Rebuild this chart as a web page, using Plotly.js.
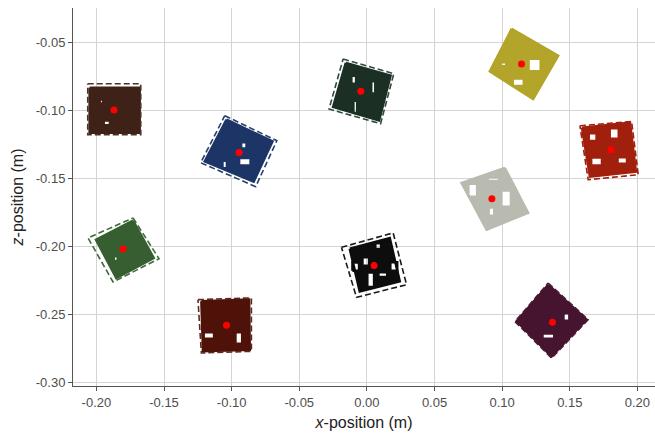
<!DOCTYPE html>
<html><head><meta charset="utf-8">
<script src="https://cdn.plot.ly/plotly-3.0.1.min.js"></script>
<style>html,body{margin:0;padding:0;background:#fff}#chart{width:655px;height:434px}</style>
</head><body><div id="chart"></div>
<script>
// cluster order: brown, blue, dark green, olive, red, gray, black, green, maroon, purple
const cloudColors = ['#3e2218','#1c3566','#1b2f25','#b3a42a','#a11f0d','#b9bbb0','#0d0d0d','#365e30','#4f1209','#47142f'];
const boxColors   = ['#4b3325','#26406e','#2d4a3b','#b3a42a','#a11f0d','#b9bbb0','#1a1a1a','#3d6b38','#5b2a20','#4a1a36'];

const cloudX = [
  [-0.2050,-0.1680,-0.1680,-0.2050],
  [-0.1038,-0.0698,-0.0837,-0.1199],
  [-0.0156, 0.0175, 0.0090,-0.0250],
  [ 0.1070, 0.1414, 0.1229, 0.0909],
  [ 0.1590, 0.1945, 0.1989, 0.1649],
  [ 0.1020, 0.1192, 0.0885, 0.0700],
  [-0.0127, 0.0169, 0.0243,-0.0053],
  [-0.1729,-0.1576,-0.1853,-0.2003],
  [-0.1224,-0.0871,-0.0866,-0.1212],
  [ 0.1340, 0.1624, 0.1365, 0.1107]
];
const cloudY = [
  [-0.0833,-0.0833,-0.1164,-0.1164],
  [-0.1068,-0.1228,-0.1524,-0.1375],
  [-0.0651,-0.0745,-0.1074,-0.0975],
  [-0.0401,-0.0598,-0.0916,-0.0713],
  [-0.1127,-0.1090,-0.1451,-0.1488],
  [-0.1424,-0.1754,-0.1877,-0.1534],
  [-0.2017,-0.1939,-0.2257,-0.2331],
  [-0.1811,-0.2086,-0.2233,-0.1951],
  [-0.2404,-0.2392,-0.2760,-0.2772],
  [-0.2282,-0.2539,-0.2809,-0.2551]
];
const boxX = [
  [-0.2064,-0.1672,-0.1672,-0.2064],
  [-0.1051,-0.0666,-0.0822,-0.1229],
  [-0.0176, 0.0199, 0.0101,-0.0280],
  [ 0.1070, 0.1414, 0.1229, 0.0909],
  [ 0.1575, 0.1957, 0.2006, 0.1636],
  [ 0.1020, 0.1192, 0.0885, 0.0700],
  [-0.0188, 0.0194, 0.0293,-0.0077],
  [-0.1729,-0.1537,-0.1877,-0.2062],
  [-0.1249,-0.0854,-0.0854,-0.1224],
  [ 0.1340, 0.1636, 0.1366, 0.1095]
];
const boxY = [
  [-0.0804,-0.0804,-0.1179,-0.1179],
  [-0.1039,-0.1223,-0.1561,-0.1385],
  [-0.0622,-0.0730,-0.1098,-0.0990],
  [-0.0401,-0.0598,-0.0916,-0.0713],
  [-0.1113,-0.1081,-0.1473,-0.1510],
  [-0.1424,-0.1754,-0.1877,-0.1534],
  [-0.2007,-0.1901,-0.2282,-0.2375],
  [-0.1791,-0.2091,-0.2262,-0.1938],
  [-0.2392,-0.2379,-0.2772,-0.2784],
  [-0.2270,-0.2539,-0.2822,-0.2553]
];
// empty patches inside each cloud: [xmin, xmax, ymax, ymin]
const holes = [
  [[-0.1976,-0.1950,-0.0920,-0.0950],[-0.1946,-0.1900,-0.1075,-0.1110]],
  [[-0.0930,-0.0890,-0.1235,-0.1280],[-0.0945,-0.0860,-0.1350,-0.1405],[-0.1068,-0.1035,-0.1370,-0.1425]],
  [[-0.0115,-0.0080,-0.0745,-0.0805],[0.0032,0.0062,-0.0785,-0.0875],[-0.0100,-0.0072,-0.0930,-0.1020]],
  [[0.1195,0.1285,-0.0620,-0.0712],[0.0988,0.1030,-0.0646,-0.0675],[0.1078,0.1160,-0.0765,-0.0820]],
  [[0.1640,0.1698,-0.1168,-0.1225],[0.1795,0.1862,-0.1132,-0.1208],[0.1658,0.1738,-0.1347,-0.1405],[0.1853,0.1923,-0.1345,-0.1392]],
  [[0.0750,0.0815,-0.1540,-0.1635],[0.0893,0.0978,-0.1492,-0.1520],[0.0990,0.1065,-0.1590,-0.1708],[0.0900,0.0942,-0.1715,-0.1775]],
  [[-0.0033,0.0016,-0.2080,-0.2142],[0.0062,0.0105,-0.1978,-0.2020],[0.0003,0.0053,-0.2192,-0.2298],[0.0173,0.0224,-0.2117,-0.2180],[0.0085,0.0150,-0.2190,-0.2226],[-0.0107,-0.0058,-0.2118,-0.2180]],
  [[-0.1872,-0.1842,-0.2072,-0.2108]],
  [[-0.0972,-0.0922,-0.2632,-0.2716],[-0.1207,-0.1130,-0.2632,-0.2680]],
  [[0.1298,0.1385,-0.2640,-0.2680],[0.1453,0.1497,-0.2492,-0.2548]]
];
const centroidX = [-0.1870,-0.0945,-0.0045, 0.1143, 0.1804, 0.0924, 0.0053,-0.1803,-0.1038, 0.1372];
const centroidY = [-0.0997,-0.1309,-0.0860,-0.0659,-0.1289,-0.1649,-0.2140,-0.2019,-0.2581,-0.2559];

const xTickVals = [-0.20,-0.15,-0.10,-0.05,0.00,0.05,0.10,0.15,0.20];
const xTickText = ['-0.20','-0.15','-0.10','-0.05','0.00','0.05','0.10','0.15','0.20'];
const yTickVals = [-0.05,-0.10,-0.15,-0.20,-0.25,-0.30];
const yTickText = ['-0.05','-0.10','-0.15','-0.20','-0.25','-0.30'];

function signedArea(xs, ys){ let a=0; for(let i=0;i<xs.length;i++){const j=(i+1)%xs.length; a+=xs[i]*ys[j]-xs[j]*ys[i];} return a; }

const traces = [];
for (let i=0;i<cloudX.length;i++){
  let ox = cloudX[i].slice(), oy = cloudY[i].slice();
  const outerSign = Math.sign(signedArea(ox, oy));
  const xs = ox.concat([ox[0]]), ys = oy.concat([oy[0]]);
  holes[i].forEach(h => {
    let hx = [h[0],h[1],h[1],h[0]], hy = [h[2],h[2],h[3],h[3]];
    if (Math.sign(signedArea(hx,hy)) === outerSign){ hx.reverse(); hy.reverse(); }
    xs.push(null); ys.push(null);
    hx.concat([hx[0]]).forEach(v=>xs.push(v)); hy.concat([hy[0]]).forEach(v=>ys.push(v));
  });
  traces.push({type:'scatter', mode:'lines', x:xs, y:ys, fill:'toself', fillcolor:cloudColors[i],
    line:{color:cloudColors[i], width:2.5, shape:'linear'}, hoverinfo:'skip', showlegend:false});
}
for (let i=0;i<boxX.length;i++){
  traces.push({type:'scatter', mode:'lines', x:boxX[i].concat([boxX[i][0]]), y:boxY[i].concat([boxY[i][0]]),
    line:{color:boxColors[i], width:1.6, dash:'6px,3px'}, hoverinfo:'skip', showlegend:false});
}
traces.push({type:'scatter', mode:'markers', x:centroidX, y:centroidY,
  marker:{color:'#ff0000', size:7}, showlegend:false});

const axisCommon = {showgrid:true, gridcolor:'#d4d4d4', gridwidth:1, zeroline:false,
  showline:true, linecolor:'#555555', linewidth:1, ticks:'outside', ticklen:4, tickcolor:'#555555',
  tickfont:{family:'Liberation Sans, Arial, sans-serif', size:13, color:'#4d4d4d'}, mirror:false};

const layout = {
  width:655, height:434, paper_bgcolor:'#ffffff', plot_bgcolor:'#ffffff',
  margin:{l:73, r:0, t:8, b:48},
  xaxis: Object.assign({}, axisCommon, {range:[-0.2173, 0.2130], tickvals:xTickVals, ticktext:xTickText,
    title:{text:'<i>x</i>-position (m)', font:{family:'Liberation Sans, Arial, sans-serif', size:16, color:'#222'}, standoff:8}}),
  yaxis: Object.assign({}, axisCommon, {range:[-0.3027, -0.0247], tickvals:yTickVals, ticktext:yTickText,
    title:{text:'<i>z</i>-position (m)', font:{family:'Liberation Sans, Arial, sans-serif', size:16, color:'#222'}, standoff:8}}),
  showlegend:false
};
Plotly.newPlot('chart', traces, layout, {displayModeBar:false, staticPlot:true});
</script></body></html>
